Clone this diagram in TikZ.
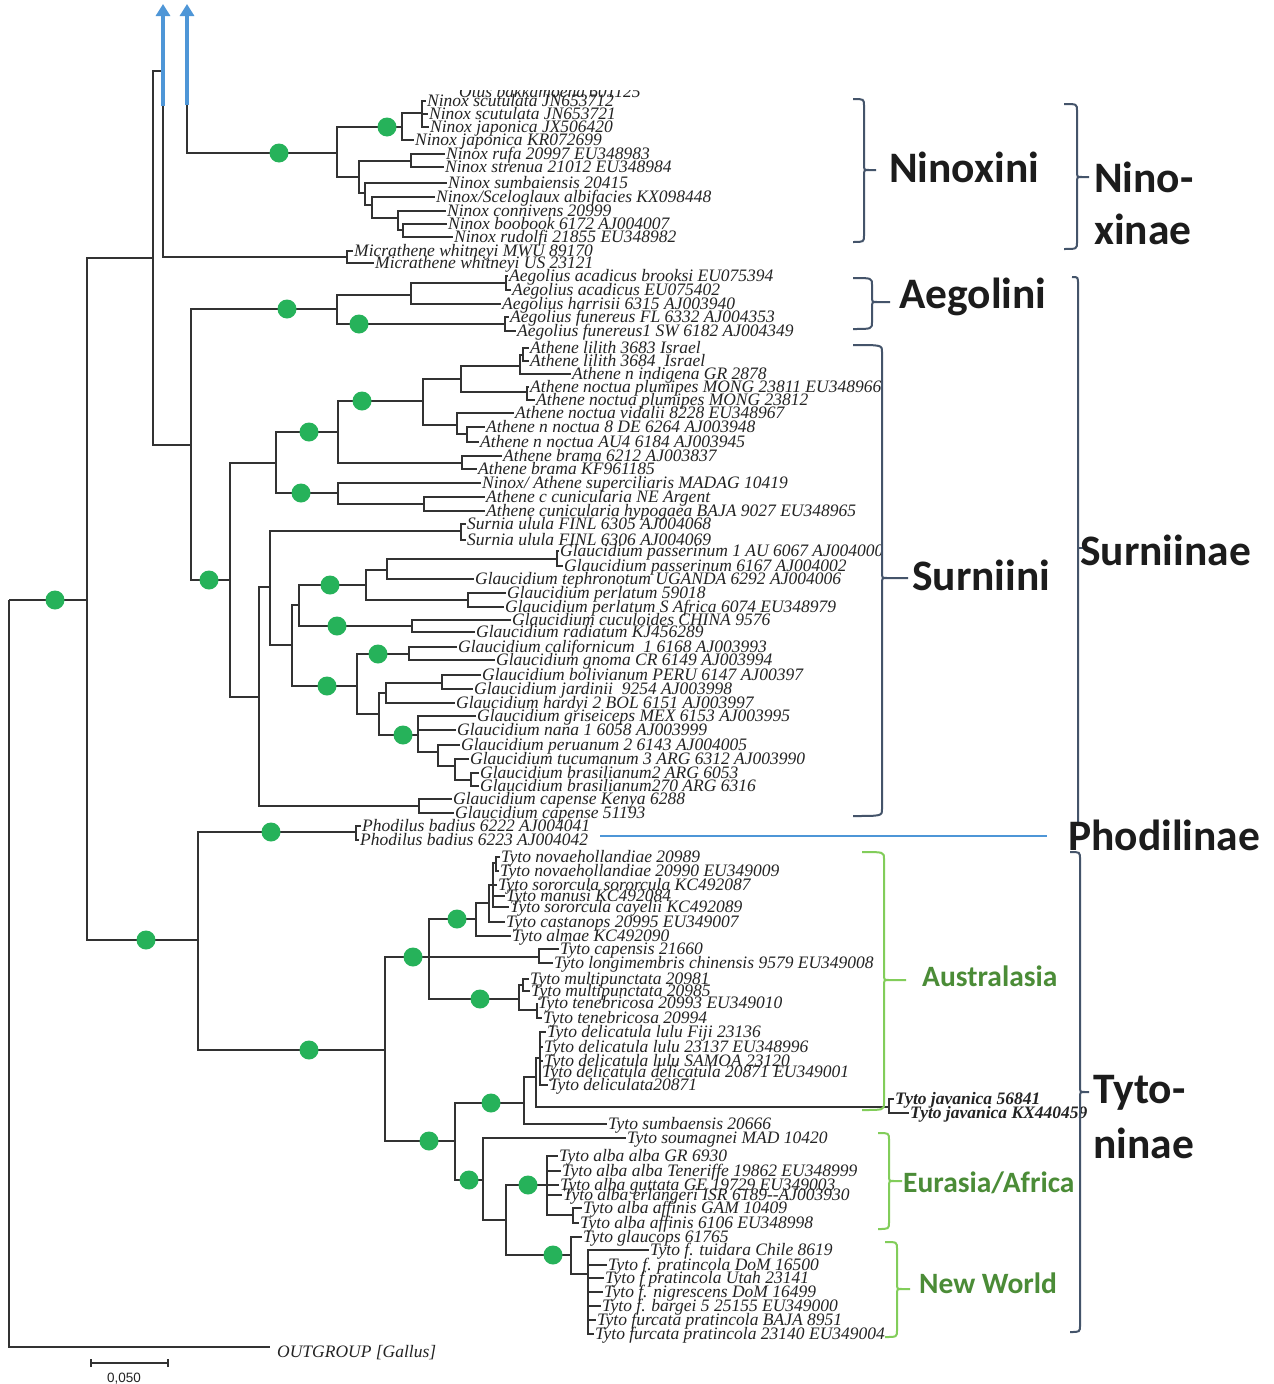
\documentclass[tikz,border=0pt]{standalone}
\usepackage{fontspec}
\setmainfont{Liberation Serif}
\newfontfamily\carlfont{Carlito}
\newfontfamily\lsansfont{Liberation Sans}
\usetikzlibrary{arrows.meta}
\definecolor{brc}{RGB}{50,50,50}
\definecolor{txc}{RGB}{35,35,35}
\definecolor{dotc}{RGB}{38,178,90}
\definecolor{bluec}{RGB}{78,150,215}
\definecolor{slate}{RGB}{68,84,106}
\definecolor{lgreen}{RGB}{130,205,90}
\definecolor{dgreen}{RGB}{75,140,55}
\definecolor{lblc}{RGB}{28,28,28}
\newcommand\tipf{\fontsize{17.5}{18}\selectfont\itshape}
\newcommand\mynode[4]{\coordinate (#2) at (#3,#4); \draw[branch] (#1) |- (#2);}
\newcommand\mytaxon[5]{\node[taxlab] (#2) at (#3,#4) {#5}; \draw[branch] (#1) |- (#2.west);}
\newcommand\mybrace[7]{\draw[#1] (#2,#4) .. controls (#3,#4) .. (#3,{#4+7}) -- (#3,{#5-6}) .. controls (#3,#5) .. ({#3+5},#5) -- (#7,#5) ({#3+5},#5) .. controls (#3,#5) .. (#3,{#5+6}) -- (#3,{#6-7}) .. controls (#3,#6) .. (#2,#6);}
\tikzset{
  branch/.style={draw=brc, line width=1.5pt},
  taxlab/.style={anchor=west, inner xsep=1pt, inner ysep=0pt, text height=12pt, text depth=1pt, font=\tipf, text=txc},
  gdot/.style={circle, fill=dotc, inner sep=0pt, minimum size=19pt},
  bluearr/.style={draw=bluec, line width=4pt, -{Triangle[width=14pt,length=12pt]}},
  darkbr/.style={draw=slate, line width=2pt},
  greenbr/.style={draw=lgreen, line width=2pt},
  grplab/.style={anchor=base west, inner sep=0pt, font=\carlfont\bfseries\fontsize{43.5}{50}\selectfont, text=lblc},
  reglab/.style={anchor=base west, inner sep=0pt, font=\carlfont\bfseries\fontsize{29.5}{32}\selectfont, text=dgreen}
}
\begin{document}
\begin{tikzpicture}[x=1pt,y=-1pt]
\fill[white] (0,0) rectangle (1274,1384);
\useasboundingbox (0,0) rectangle (1274,1384);
% clipped label at the top
\begin{scope}
\clip (420,90) rectangle (700,110);
\node[taxlab] (otus) at (458,91.5) {Otus bakkamoena 601125};
\end{scope}
% backbone
\coordinate (root) at (9,600);
\mynode{root}{A}{87}{600}
\coordinate (ogend) at (270,1347);
\draw[branch] (root) |- (ogend);
\node[taxlab] (og) at (276,1352) {OUTGROUP [Gallus]};
\mynode{A}{B}{153}{258}
\mynode{A}{Tyt}{198}{940}
\mynode{B}{B1}{163}{71}
\mynode{B}{Surn}{191}{445}
\mynode{B1}{Mic}{347}{257}
\coordinate (ar2) at (187,105);
\mynode{ar2}{Nin}{337}{153}
% Ninox
\mynode{Nin}{NinA}{402}{127}
\mynode{NinA}{NinB}{422}{113}
\mynode{Nin}{N3}{359}{177}
\mynode{N3}{N3a}{411}{161}
\mynode{N3}{N4}{365}{193}
\mynode{N4}{N5}{372}{205}
\mynode{N5}{N6}{398}{218}
\mynode{N6}{N7}{403}{230}
\mytaxon{NinB}{ns1}{426}{101}{Ninox scutulata JN653712}
\mytaxon{NinB}{ns2}{428}{114}{Ninox scutulata JN653721}
\mytaxon{NinB}{nj1}{429}{127}{Ninox japonica JX506420}
\mytaxon{NinA}{nj2}{414}{140}{Ninox japonica KR072699}
\mytaxon{N3a}{nr}{445}{154}{Ninox rufa 20997 EU348983}
\mytaxon{N3a}{nst}{444}{167}{Ninox strenua 21012 EU348984}
\mytaxon{N4}{nsu}{447}{183}{Ninox sumbaiensis 20415}
\mytaxon{N5}{nal}{435}{197}{Ninox/Sceloglaux albifacies KX098448}
\mytaxon{N6}{nco}{446}{211}{Ninox connivens 20999}
\mytaxon{N7}{nbo}{447}{224}{Ninox boobook 6172 AJ004007}
\mytaxon{N7}{nru}{453}{237}{Ninox rudolfi 21855 EU348982}
\mytaxon{Mic}{mw1}{353}{251}{Micrathene whitneyi MWU 89170}
\mytaxon{Mic}{mw2}{374}{263}{Micrathene whitneyi US 23121}
% Aegolius
\mynode{Surn}{Aeg}{337}{309}
\mynode{Aeg}{AegA}{411}{295}
\mynode{AegA}{AegAc}{506}{283}
\mynode{Aeg}{AegF}{505}{324}
\mytaxon{AegAc}{aa1}{508}{276}{Aegolius acadicus brooksi EU075394}
\mytaxon{AegAc}{aa2}{511}{290}{Aegolius acadicus EU075402}
\mytaxon{AegA}{ah}{501}{304}{Aegolius harrisii 6315 AJ003940}
\mytaxon{AegF}{af1}{509}{317}{Aegolius funereus FL 6332 AJ004353}
\mytaxon{AegF}{af2}{516}{331}{Aegolius funereus1 SW 6182 AJ004349}
% Athene
\mynode{Surn}{Surni}{230}{580}
\mynode{Surni}{Ath}{276}{463}
\mynode{Ath}{AthA}{338}{432}
\mynode{AthA}{AthN}{423}{401}
\mynode{AthN}{AthN1}{461}{379}
\mynode{AthN1}{AthL}{520}{366}
\mynode{AthL}{AthLL}{523}{355}
\mynode{AthN1}{AthP}{527}{392}
\mynode{AthN}{AthN2}{457}{425}
\mynode{AthN2}{AthNN}{467}{434}
\mynode{AthA}{AthBr}{462}{463}
\mynode{Ath}{AthS}{338}{493}
\mynode{AthS}{AthC}{424}{504}
\mytaxon{AthLL}{al1}{529}{348}{Athene lilith 3683 Israel}
\mytaxon{AthLL}{al2}{529}{361}{Athene lilith 3684\ \ Israel}
\mytaxon{AthL}{ai}{571}{374}{Athene n indigena GR 2878}
\mytaxon{AthP}{ap1}{529}{387}{Athene noctua plumipes MONG 23811 EU348966}
\mytaxon{AthP}{ap2}{535}{400}{Athene noctua plumipes MONG 23812}
\mytaxon{AthN2}{av}{514}{413}{Athene noctua vidalii 8228 EU348967}
\mytaxon{AthNN}{an1}{485}{427}{Athene n noctua 8 DE 6264 AJ003948}
\mytaxon{AthNN}{an2}{479}{442}{Athene n noctua AU4 6184 AJ003945}
\mytaxon{AthBr}{ab1}{502}{456}{Athene brama 6212 AJ003837}
\mytaxon{AthBr}{ab2}{477}{469}{Athene brama KF961185}
\mytaxon{AthS}{asu}{481}{483}{Ninox/ Athene superciliaris MADAG 10419}
\mytaxon{AthC}{ac1}{485}{497}{Athene c cunicularia NE Argent}
\mytaxon{AthC}{ac2}{485}{511}{Athene cunicularia hypogaea BAJA 9027 EU348965}
% Surnia, Glaucidium
\mynode{Surni}{Sr2}{259}{697}
\mynode{Sr2}{Sr3}{270}{587}
\mynode{Sr3}{Surnia}{461}{531}
\mynode{Sr3}{G1}{292}{645}
\mynode{G1}{G2}{299}{605}
\mynode{G2}{G2a}{366}{585}
\mynode{G2a}{G2aa}{387}{570}
\mynode{G2aa}{Gpass}{557}{559}
\mynode{G2a}{Gperl}{468}{600}
\mynode{G2}{G2b}{412}{626}
\mynode{G1}{G3}{357}{686}
\mynode{G3}{Gcal}{409}{654}
\mynode{G3}{G4}{379}{714}
\mynode{G4}{G5}{386}{693}
\mynode{G5}{Gbj}{442}{683}
\mynode{G4}{G6}{418}{735}
\mynode{G6}{G7}{438}{752}
\mynode{G7}{G8}{455}{766}
\mynode{G8}{G9}{471}{780}
\mynode{Sr2}{Cap}{419}{806}
\mytaxon{Surnia}{su1}{466}{524}{Surnia ulula FINL 6305 AJ004068}
\mytaxon{Surnia}{su2}{466}{540}{Surnia ulula FINL 6306 AJ004069}
\mytaxon{Gpass}{gp1}{559}{551}{Glaucidium passerinum 1 AU 6067 AJ004000}
\mytaxon{Gpass}{gp2}{563}{566}{Glaucidium passerinum 6167 AJ004002}
\mytaxon{G2aa}{gt}{474}{579}{Glaucidium tephronotum UGANDA 6292 AJ004006}
\mytaxon{Gperl}{gpe1}{506}{593}{Glaucidium perlatum 59018}
\mytaxon{Gperl}{gpe2}{504}{607}{Glaucidium perlatum S Africa 6074 EU348979}
\mytaxon{G2b}{gcu}{511}{620}{Glaucidium cuculoides CHINA 9576}
\mytaxon{G2b}{gra}{475}{632}{Glaucidium radiatum KJ456289}
\mytaxon{Gcal}{gca}{457}{647}{Glaucidium californicum\ \ 1 6168 AJ003993}
\mytaxon{Gcal}{ggn}{495}{660}{Glaucidium gnoma CR 6149 AJ003994}
\mytaxon{Gbj}{gbo}{481}{675}{Glaucidium bolivianum PERU 6147 AJ00397}
\mytaxon{Gbj}{gja}{473}{689}{Glaucidium jardinii\ \ 9254 AJ003998}
\mytaxon{G5}{gha}{455}{703}{Glaucidium hardyi 2 BOL 6151 AJ003997}
\mytaxon{G6}{ggr}{476}{716}{Glaucidium griseiceps MEX 6153 AJ003995}
\mytaxon{G6}{gna}{456}{730}{Glaucidium nana 1 6058 AJ003999}
\mytaxon{G7}{gpu}{460}{745}{Glaucidium peruanum 2 6143 AJ004005}
\mytaxon{G8}{gtu}{469}{759}{Glaucidium tucumanum 3 ARG 6312 AJ003990}
\mytaxon{G9}{gbr1}{479}{773}{Glaucidium brasilianum2 ARG 6053}
\mytaxon{G9}{gbr2}{479}{786}{Glaucidium brasilianum270 ARG 6316}
\mytaxon{Cap}{gk1}{452}{799}{Glaucidium capense Kenya 6288}
\mytaxon{Cap}{gk2}{454}{813}{Glaucidium capense 51193}
% Tytonidae
\mynode{Tyt}{Pho}{356}{832}
\mynode{Tyt}{Tyto}{385}{1050}
\mytaxon{Pho}{ph1}{361}{826}{Phodilus badius 6222 AJ004041}
\mytaxon{Pho}{ph2}{359}{840}{Phodilus badius 6223 AJ004042}
\mynode{Tyto}{Au}{429}{957}
\mynode{Au}{Au1}{476}{919}
\mynode{Au1}{Au2}{489}{903}
\mynode{Au2}{Au3}{493}{885}
\mynode{Au3}{Au4}{496}{863}
\mynode{Au}{Tcap}{539}{957}
\mynode{Au}{Tmul}{519}{999}
\mynode{Tmul}{Tmp}{523}{985}
\mynode{Tmul}{Tten}{537}{1010}
\mynode{Tyto}{Tlow}{455}{1141}
\mynode{Tlow}{Tdel}{524}{1103}
\mynode{Tdel}{Tdel1}{536}{1077}
\mynode{Tdel1}{Tdel2}{540}{1058}
\mynode{Tdel1}{Jav}{889}{1107}
\mynode{Tlow}{Tsa}{483}{1180}
\mynode{Tsa}{Tsb}{506}{1220}
\mynode{Tsb}{Talba}{547}{1185}
\mynode{Talba}{Taff}{573}{1215}
\mynode{Tsb}{Tnw}{571}{1255}
\mynode{Tnw}{Tnw2}{588}{1274}
\mytaxon{Au4}{tn1}{500}{857}{Tyto novaehollandiae 20989}
\mytaxon{Au4}{tn2}{499}{871}{Tyto novaehollandiae 20990 EU349009}
\mytaxon{Au3}{tso}{497}{885}{Tyto sororcula sororcula KC492087}
\mytaxon{Au3}{tma}{505}{896}{Tyto manusi KC492084}
\mytaxon{Au3}{tsc}{509}{907}{Tyto sororcula cayelii KC492089}
\mytaxon{Au2}{tca}{505}{922}{Tyto castanops 20995 EU349007}
\mytaxon{Au1}{tal}{511}{936}{Tyto almae KC492090}
\mytaxon{Tcap}{tcp}{559}{949}{Tyto capensis 21660}
\mytaxon{Tcap}{tlo}{553}{963}{Tyto longimembris chinensis 9579 EU349008}
\mytaxon{Tmp}{tm1}{529}{979}{Tyto multipunctata 20981}
\mytaxon{Tmp}{tm2}{530}{991}{Tyto multipunctata 20985}
\mytaxon{Tten}{tt1}{537}{1003}{Tyto tenebricosa 20993 EU349010}
\mytaxon{Tten}{tt2}{542}{1018}{Tyto tenebricosa 20994}
\mytaxon{Tdel2}{td1}{546}{1032}{Tyto delicatula lulu Fiji 23136}
\mytaxon{Tdel2}{td2}{543}{1047}{Tyto delicatula lulu 23137 EU348996}
\mytaxon{Tdel2}{td3}{543}{1061}{Tyto delicatula lulu SAMOA 23120}
\mytaxon{Tdel2}{td4}{541}{1072}{Tyto delicatula delicatula 20871 EU349001}
\mytaxon{Tdel2}{td5}{548}{1085}{Tyto deliculata20871}
\mytaxon{Jav}{tj1}{894}{1099}{\bfseries Tyto javanica 56841}
\mytaxon{Jav}{tj2}{909}{1113}{\bfseries Tyto javanica KX440459}
\mytaxon{Tdel}{tsu}{607}{1124}{Tyto sumbaensis 20666}
\mytaxon{Tsa}{tsm}{626}{1138}{Tyto soumagnei MAD 10420}
\mytaxon{Talba}{ta1}{558}{1156}{Tyto alba alba GR 6930}
\mytaxon{Talba}{ta2}{561}{1171}{Tyto alba alba Teneriffe 19862 EU348999}
\mytaxon{Talba}{ta3}{559}{1185}{Tyto alba guttata GE 19729 EU349003}
\mytaxon{Talba}{ta4}{562}{1195}{Tyto alba erlangeri ISR 6189-{}-AJ003930}
\mytaxon{Taff}{tf1}{582}{1208}{Tyto alba affinis GAM 10409}
\mytaxon{Taff}{tf2}{579}{1223}{Tyto alba affinis 6106 EU348998}
\mytaxon{Tnw}{tgl}{582}{1237}{Tyto glaucops 61765}
\mytaxon{Tnw2}{tw1}{649}{1250}{Tyto f. tuidara Chile 8619}
\mytaxon{Tnw2}{tw2}{607}{1265}{Tyto f. pratincola DoM 16500}
\mytaxon{Tnw2}{tw3}{604}{1278}{Tyto f pratincola Utah 23141}
\mytaxon{Tnw2}{tw4}{603}{1292}{Tyto f. nigrescens DoM 16499}
\mytaxon{Tnw2}{tw5}{601}{1306}{Tyto f. bargei 5 25155 EU349000}
\mytaxon{Tnw2}{tw6}{596}{1320}{Tyto furcata pratincola BAJA 8951}
\mytaxon{Tnw2}{tw7}{594}{1334}{Tyto furcata pratincola 23140 EU349004}
% blue arrows
\coordinate (ar1b) at (163,106); \coordinate (ar1t) at (163,4);
\coordinate (ar2t) at (187,4);
\draw[bluearr] (ar1b) -- (ar1t);
\draw[bluearr] (ar2) -- (ar2t);
% support dots
\foreach \px/\py [count=\i] in {55/600,146/940,279/153,387/127,287/309,359/324,209/580,309/432,362/401,301/493,330/585,337/626,327/686,378/654,403/735,271/832,309/1050,413/957,457/919,480/999,429/1141,491/1103,469/1180,528/1185,553/1255}
  \node[gdot] (d\i) at (\px,\py) {};
% scale bar
\coordinate (sbL) at (91,1363); \coordinate (sbR) at (168,1363);
\draw[branch, line width=1.2pt] (sbL) -- (sbR);
\draw[branch, line width=1.2pt] ([yshift=-4pt]sbL) -- ([yshift=4pt]sbL);
\draw[branch, line width=1.2pt] ([yshift=-4pt]sbR) -- ([yshift=4pt]sbR);
\node[anchor=base, inner sep=0pt, font=\lsansfont\fontsize{13.5}{14}\selectfont, text=txc] (sblab) at (124,1382) {0,050};
% blue Phodilinae line
\coordinate (blA) at (600,836); \coordinate (blB) at (1047,836);
\draw[draw=bluec, line width=1.2pt] (blA) -- (blB);
% dark brackets
\mybrace{darkbr}{853}{864}{99}{170}{242}{876}
\mybrace{darkbr}{1064}{1077}{104}{177}{249}{1089}
\mybrace{darkbr}{853}{872}{278}{302}{329}{890}
\mybrace{darkbr}{853}{882}{345}{578}{816}{908}
\draw[darkbr] (1072,277) .. controls (1078,277) .. (1078,284) -- (1078,822);
\draw[darkbr] (1078,548) -- (1083,548);
\mybrace{darkbr}{1070}{1080}{852}{1092}{1332}{1089}
% green brackets
\mybrace{greenbr}{862}{884}{852}{980}{1110}{906}
\mybrace{greenbr}{878}{889}{1133}{1181}{1229}{902}
\mybrace{greenbr}{885}{897}{1242}{1289}{1337}{910}
% group labels
\node[grplab] (lNx) at (889,182) {Ninoxini};
\node[grplab] (lNa1) at (1094,192) {Nino-};
\node[grplab] (lNa2) at (1094,244) {xinae};
\node[grplab] (lAe) at (899,308) {Aegolini};
\node[grplab] (lSi) at (912,590) {Surniini};
\node[grplab] (lSa) at (1080,565) {Surniinae};
\node[grplab] (lPh) at (1068,850) {Phodilinae};
\node[grplab] (lTy1) at (1093,1103) {Tyto-};
\node[grplab] (lTy2) at (1093,1158) {ninae};
\node[reglab] (lAu) at (922,986) {Australasia};
\node[reglab] (lEA) at (903,1192) {Eurasia/Africa};
\node[reglab] (lNW) at (919,1293) {New World};
\end{tikzpicture}
\end{document}
